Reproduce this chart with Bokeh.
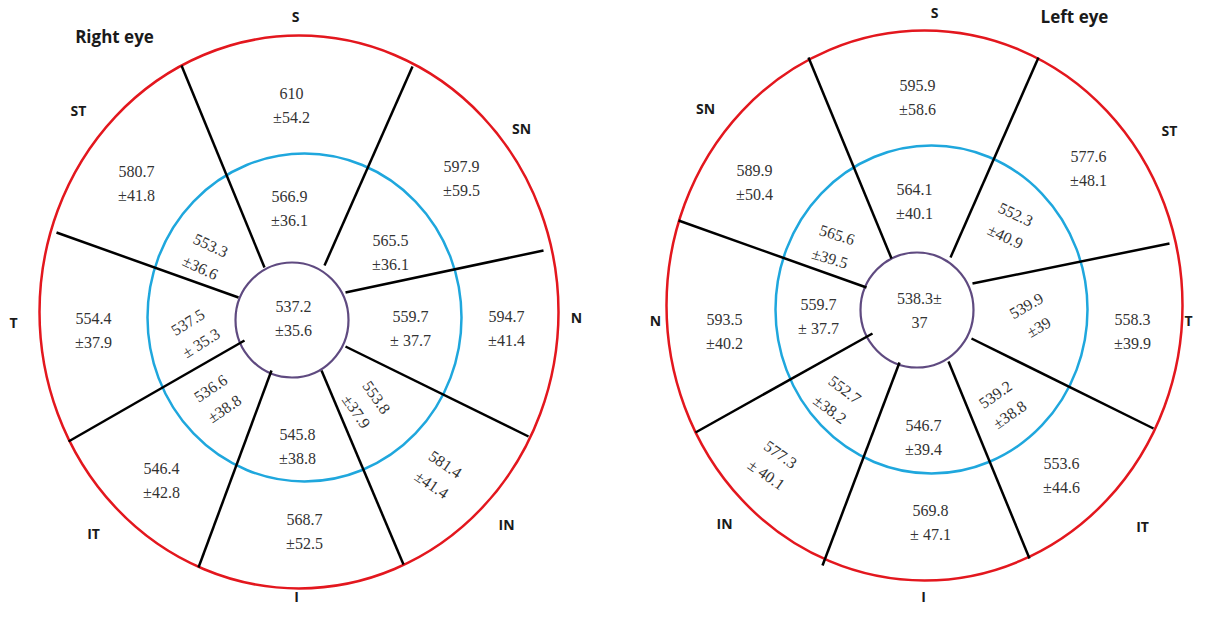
import math
from bokeh.plotting import figure
from bokeh.models import Range1d, ColumnDataSource
from bokeh.core.properties import value
from bokeh.embed import file_html
from bokeh.resources import INLINE

# ---------------- data ----------------
right_regions = ["S", "SN", "N", "IN", "I", "IT", "T", "ST"]
left_regions = ["S", "ST", "T", "IT", "I", "IN", "N", "SN"]

# thickness values (mean ± SD), outer ring
right_outer = ["610\n±54.2", "597.9\n±59.5", "594.7\n±41.4", "581.4\n±41.4",
               "568.7\n±52.5", "546.4\n±42.8", "554.4\n±37.9", "580.7\n±41.8"]
# inner ring
right_inner = ["566.9\n±36.1", "565.5\n±36.1", "559.7\n± 37.7", "553.8\n±37.9",
               "545.8\n±38.8", "536.6\n±38.8", "537.5\n± 35.3", "553.3\n±36.6"]
right_center = "537.2\n±35.6"

left_outer = ["595.9\n±58.6", "577.6\n±48.1", "558.3\n±39.9", "553.6\n±44.6",
              "569.8\n± 47.1", "577.3\n± 40.1", "593.5\n±40.2", "589.9\n±50.4"]
left_inner = ["564.1\n±40.1", "552.3\n±40.9", "539.9\n±39", "539.2\n±38.8",
              "546.7\n±39.4", "552.7\n±38.2", "559.7\n± 37.7", "565.6\n±39.5"]
left_center = "538.3±\n37"

titles = ["Right eye", "Left eye"]

# ---------------- layout (pixel space) ----------------
LX = -8  # small horizontal nudge of the left-eye drawing so its labels fit

right_outer_pos = [(291, 105, 0), (461, 178, 0), (506, 328, 0), (438, 474, -34),
                   (304, 531, 0), (161, 480, 0), (93, 330, 0), (136, 183, 0)]
right_inner_pos = [(289, 208, 0), (390, 252, 0), (410, 328, 0), (366, 404, -55),
                   (297, 446, 0), (217, 398, 34), (194, 332, 32), (205, 256, -25)]
right_center_pos = (293, 318)

left_outer_pos = [(925, 97, 0), (1096, 168, 0), (1140, 331, 0), (1069, 475, 0),
                  (938, 522, 0), (781, 464, -35), (732, 331, 0), (762, 182, 0)]
left_inner_pos = [(922, 201, 0), (1018, 225, -25), (1040, 316, 30), (1010, 404, 35),
                  (931, 437, 0), (845, 399, -37), (826, 316, 0), (841, 246, -17)]
left_center_pos = (927, 310)

right_region_pos = [(295, 16), (521, 128), (576, 317), (506, 524),
                    (296, 596), (93, 533), (13, 322), (78, 110)]
left_region_pos = [(942, 12), (1177, 130), (1196, 320), (1150, 526),
                   (931, 596), (732, 523), (663, 320), (713, 108)]
title_pos = [(114, 36), (1074, 16)]

# ellipses: (cx, cy, rx, ry)
right_rings = [(298.5, 311.5, 259.5, 276.5), (304, 317, 157, 164), (291.5, 319.5, 56.5, 57.5)]
left_rings = [(932, 305, 258, 275), (939, 309, 156, 164), (924.5, 309.5, 56.5, 57.5)]
ring_colors = ["#e3171e", "#1fa7dd", "#5f4a80"]
ring_widths = [2.5, 2.5, 2.2]

# spokes (inner x, inner y, outer x, outer y)
right_spokes = [(264, 267, 181, 65), (324, 265, 412, 66), (345, 292, 543, 250),
                (238, 297, 56, 232), (244, 340, 68, 441), (271, 370, 198, 567),
                (321, 370, 403, 564), (345, 346, 528, 436)]
left_spokes = [(899, 258, 816, 57), (958, 257, 1046, 57), (980, 283, 1177, 243),
               (874, 287, 686, 220), (880, 333, 703, 432), (907, 362, 830, 565),
               (956, 361, 1037, 558), (979, 338, 1161, 428)]

# ---------------- figure ----------------
p = figure(width=1194, height=606, x_range=Range1d(0, 1194), y_range=Range1d(606, 0),
           output_backend="svg", toolbar_location=None, min_border=0)
p.axis.visible = False
p.grid.visible = False
p.outline_line_color = None
p.background_fill_color = "white"

for rings, dx in ((right_rings, 0), (left_rings, LX)):
    for (cx, cy, rx, ry), c, w in zip(rings, ring_colors, ring_widths):
        p.ellipse(x=[cx + dx], y=[cy], width=[2 * rx], height=[2 * ry],
                  fill_color=None, line_color=c, line_width=w)

for spokes, dx in ((right_spokes, 0), (left_spokes, LX)):
    p.segment(x0=[s[0] + dx for s in spokes], y0=[s[1] for s in spokes],
              x1=[s[2] + dx for s in spokes], y1=[s[3] for s in spokes],
              line_color="black", line_width=2.5)

texts, xs, ys, angs = [], [], [], []
for vals, pos, dx in ((right_outer, right_outer_pos, 0), (right_inner, right_inner_pos, 0),
                      (left_outer, left_outer_pos, LX), (left_inner, left_inner_pos, LX)):
    for v, (x, y, a) in zip(vals, pos):
        texts.append(v); xs.append(x + dx); ys.append(y); angs.append(math.radians(a))
for v, (x, y), dx in ((right_center, right_center_pos, 0), (left_center, left_center_pos, LX)):
    texts.append(v); xs.append(x + dx); ys.append(y); angs.append(0.0)

src = ColumnDataSource(dict(x=xs, y=ys, text=texts, angle=angs))
p.text(x="x", y="y", text="text", angle="angle", source=src,
       text_font=value("Liberation Serif"), text_font_size="16px",
       text_color="#333333", text_align="center", text_baseline="middle",
       text_line_height=1.45)

rx_ = [q[0] for q in right_region_pos] + [q[0] + LX for q in left_region_pos]
ry_ = [q[1] for q in right_region_pos] + [q[1] for q in left_region_pos]
p.text(x=rx_, y=ry_, text=right_regions + left_regions,
       text_font=value("Open Sans"), text_font_style="bold", text_font_size="14px",
       text_color="#1a1a1a", text_align="center", text_baseline="middle")

p.text(x=[t[0] for t in title_pos], y=[t[1] for t in title_pos], text=titles,
       text_font=value("Open Sans"), text_font_style="bold", text_font_size="17px",
       text_color="#1a1a1a", text_align="center", text_baseline="middle")

open("out.html", "w").write(file_html(p, INLINE))
